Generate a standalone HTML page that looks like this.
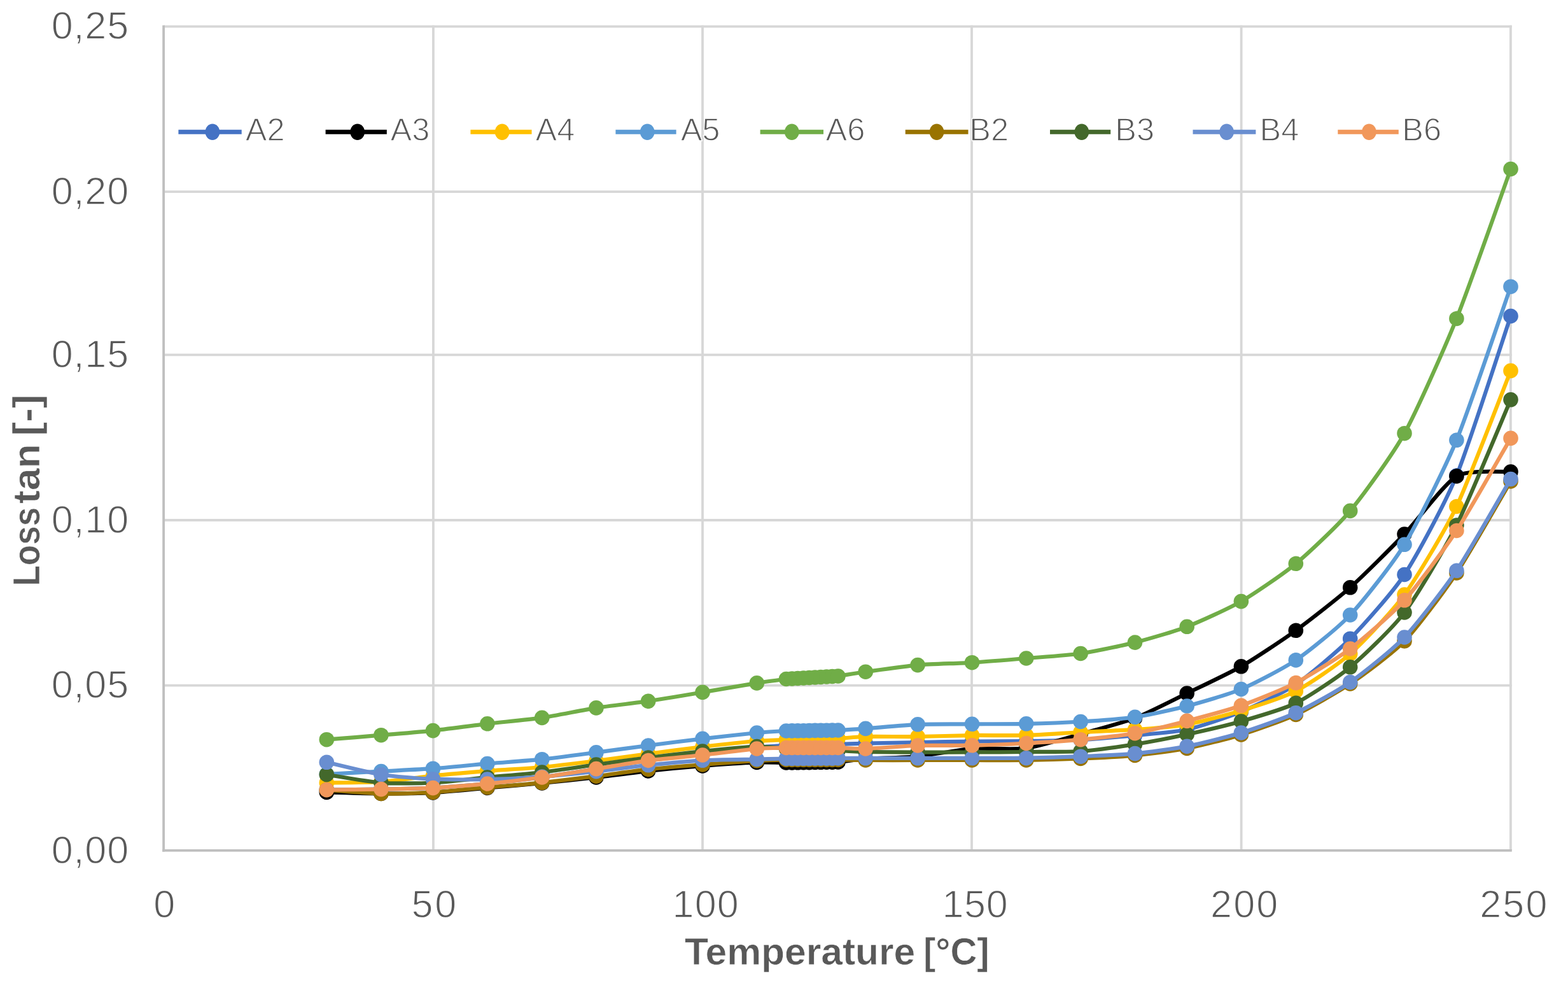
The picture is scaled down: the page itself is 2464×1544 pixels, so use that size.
<!DOCTYPE html>
<html lang="en">
<head>
<meta charset="utf-8">
<title>Loss tan vs Temperature</title>
<style>
html,body{margin:0;padding:0;background:#fff;}
body{width:2464px;height:1544px;overflow:hidden;}
svg{display:block;}
text{font-family:"Liberation Sans", sans-serif;fill:#595959;}
text{stroke:#fff;stroke-width:1.3px;paint-order:fill stroke;stroke-linejoin:round;}
.tick{font-size:61px;letter-spacing:0.9px;}
.leg{font-size:50.5px;}
.title{font-size:60px;font-weight:bold;stroke-width:0.6px;}
.s{fill:none;stroke-width:6.2;stroke-linejoin:round;stroke-linecap:round;}
</style>
</head>
<body>
<svg width="2464" height="1544" viewBox="0 0 2464 1544">
<rect width="2464" height="1544" fill="#fff"/>
<g id="grid" stroke="#D7D7D7" stroke-width="3.8" fill="none">
<line x1="257.1" y1="1076.7" x2="2375.8" y2="1076.7"/>
<line x1="257.1" y1="817" x2="2375.8" y2="817"/>
<line x1="257.1" y1="557.3" x2="2375.8" y2="557.3"/>
<line x1="257.1" y1="301.2" x2="2375.8" y2="301.2"/>
<line x1="257.1" y1="41.6" x2="2375.8" y2="41.6"/>
<line x1="680.9" y1="39.8" x2="680.9" y2="1335.9"/>
<line x1="1104" y1="39.8" x2="1104" y2="1335.9"/>
<line x1="1527" y1="39.8" x2="1527" y2="1335.9"/>
<line x1="1950.6" y1="39.8" x2="1950.6" y2="1335.9"/>
<line x1="2373.9" y1="39.8" x2="2373.9" y2="1335.9"/>
</g>
<g id="axes" stroke="#BFBFBF" stroke-width="3.8" fill="none">
<line x1="257.1" y1="39.8" x2="257.1" y2="1337.8"/>
<line x1="255.2" y1="1335.9" x2="2375.8" y2="1335.9"/>
</g>
<g id="yticks" class="tick" text-anchor="end">
<text x="203" y="1355.5">0,00</text>
<text x="203" y="1096.3">0,05</text>
<text x="203" y="836.6">0,10</text>
<text x="203" y="576.9">0,15</text>
<text x="203" y="320.8">0,20</text>
<text x="203" y="61.2">0,25</text>
</g>
<g id="xticks" class="tick">
<text x="241.3" y="1440.6" style="letter-spacing:0px">0</text>
<text x="646.6" y="1440.6" style="letter-spacing:2.8px">50</text>
<text x="1056.5" y="1440.6" style="letter-spacing:1.2px">100</text>
<text x="1480.4" y="1440.6" style="letter-spacing:0.8px">150</text>
<text x="1902.1" y="1440.6" style="letter-spacing:2.2px">200</text>
<text x="2325.2" y="1440.6" style="letter-spacing:2.2px">250</text>
</g>
<text class="title" y="1514.7"><tspan x="1076" textLength="362.3" lengthAdjust="spacingAndGlyphs">Temperature</tspan> <tspan x="1451" textLength="103.5" lengthAdjust="spacingAndGlyphs">[°C]</tspan></text>
<text class="title" transform="translate(61.8 917.1) rotate(-90)"><tspan x="-3.5" textLength="123.9" lengthAdjust="spacingAndGlyphs">Loss</tspan> <tspan x="126" textLength="93.8" lengthAdjust="spacingAndGlyphs">tan</tspan> <tspan x="232.3" textLength="65.5" lengthAdjust="spacingAndGlyphs">[-]</tspan></text>
<g id="s-A2" stroke="#4472C4" fill="#4472C4">
<path class="s" d="M513.3 1240.6C522.8 1240.5 580.3 1239.9 598.9 1239.6C617.5 1239.3 661.9 1238.6 680.4 1237.6C698.9 1236.6 746.8 1232.8 765.8 1231C784.8 1229.2 832.7 1223.6 851.7 1221C870.7 1218.4 918.4 1210.5 936.9 1207.6C955.4 1204.7 1000 1197 1018.6 1194.5C1037.2 1192 1085 1187.3 1104 1185C1123 1182.7 1174.7 1175.6 1189.3 1174C1203.9 1172.4 1229.4 1171.4 1235.5 1171C1240 1170.7 1242.5 1170.8 1244.6 1170.8C1246.6 1170.7 1251.6 1170.6 1253.6 1170.6C1255.6 1170.5 1260.7 1170.4 1262.7 1170.3C1264.7 1170.3 1269.7 1170.2 1271.7 1170.1C1273.7 1170.1 1278.8 1169.9 1280.8 1169.9C1282.8 1169.8 1287.8 1169.7 1289.8 1169.7C1291.8 1169.6 1296.9 1169.5 1298.9 1169.4C1300.9 1169.4 1305.9 1169.3 1307.9 1169.2C1310 1169.2 1312.5 1169.1 1317 1169C1322.8 1168.8 1346.3 1167.9 1360.2 1167.6C1374.1 1167.3 1423.5 1166.3 1442.1 1166C1460.7 1165.7 1508.5 1164.7 1527.5 1164.5C1546.5 1164.3 1593.7 1164.3 1612.7 1164C1631.7 1163.7 1679.1 1163 1698.1 1162C1717.1 1161 1764.9 1156.8 1783.5 1155C1802.1 1153.2 1846.7 1150.1 1865.2 1146C1883.7 1141.9 1931.4 1125.9 1950.4 1118C1969.4 1110.1 2017.3 1087.8 2036.3 1075C2055.3 1062.2 2102.7 1022.4 2121.7 1003.2C2140.7 984 2188.4 931 2207 902.5C2225.6 874 2270.3 792.1 2288.9 747C2307.5 701.9 2364.5 524.3 2374 496.5"/>
<g stroke="none"><circle cx="513.3" cy="1240.6" r="11.8"/><circle cx="598.9" cy="1239.6" r="11.8"/><circle cx="680.4" cy="1237.6" r="11.8"/><circle cx="765.8" cy="1231" r="11.8"/><circle cx="851.7" cy="1221" r="11.8"/><circle cx="936.9" cy="1207.6" r="11.8"/><circle cx="1018.6" cy="1194.5" r="11.8"/><circle cx="1104" cy="1185" r="11.8"/><circle cx="1189.3" cy="1174" r="11.8"/><circle cx="1235.5" cy="1171" r="11.8"/><circle cx="1244.6" cy="1170.8" r="11.8"/><circle cx="1253.6" cy="1170.6" r="11.8"/><circle cx="1262.7" cy="1170.3" r="11.8"/><circle cx="1271.7" cy="1170.1" r="11.8"/><circle cx="1280.8" cy="1169.9" r="11.8"/><circle cx="1289.8" cy="1169.7" r="11.8"/><circle cx="1298.9" cy="1169.4" r="11.8"/><circle cx="1307.9" cy="1169.2" r="11.8"/><circle cx="1317" cy="1169" r="11.8"/><circle cx="1360.2" cy="1167.6" r="11.8"/><circle cx="1442.1" cy="1166" r="11.8"/><circle cx="1527.5" cy="1164.5" r="11.8"/><circle cx="1612.7" cy="1164" r="11.8"/><circle cx="1698.1" cy="1162" r="11.8"/><circle cx="1783.5" cy="1155" r="11.8"/><circle cx="1865.2" cy="1146" r="11.8"/><circle cx="1950.4" cy="1118" r="11.8"/><circle cx="2036.3" cy="1075" r="11.8"/><circle cx="2121.7" cy="1003.2" r="11.8"/><circle cx="2207" cy="902.5" r="11.8"/><circle cx="2288.9" cy="747" r="11.8"/><circle cx="2374" cy="496.5" r="11.8"/></g>
</g>
<g id="s-A3" stroke="#000000" fill="#000000">
<path class="s" d="M513.3 1244.5C522.8 1244.7 580.3 1246.4 598.9 1246.5C617.5 1246.6 661.9 1246 680.4 1245C698.9 1244 746.8 1239.2 765.8 1237.5C784.8 1235.8 832.7 1231.8 851.7 1230C870.7 1228.2 918.4 1223.1 936.9 1221C955.4 1218.9 1000 1213 1018.6 1211C1037.2 1209 1085 1204.5 1104 1203C1123 1201.5 1174.7 1198.1 1189.3 1197.5C1203.9 1196.9 1229.4 1198 1235.5 1198C1240 1198 1242.5 1197.9 1244.6 1197.9C1246.6 1197.9 1251.6 1197.8 1253.6 1197.8C1255.6 1197.8 1260.7 1197.7 1262.7 1197.7C1264.7 1197.6 1269.7 1197.6 1271.7 1197.6C1273.7 1197.5 1278.8 1197.5 1280.8 1197.4C1282.8 1197.4 1287.8 1197.4 1289.8 1197.3C1291.8 1197.3 1296.9 1197.2 1298.9 1197.2C1300.9 1197.2 1305.9 1197.1 1307.9 1197.1C1310 1197.1 1312.5 1197.4 1317 1197C1322.8 1196.4 1346.3 1193 1360.2 1192C1374.1 1191 1423.5 1189.8 1442.1 1188C1460.7 1186.2 1508.5 1177.4 1527.5 1176C1546.5 1174.6 1593.7 1177.9 1612.7 1175.3C1631.7 1172.7 1679.1 1158.3 1698.1 1153C1717.1 1147.7 1764.9 1135.1 1783.5 1128C1802.1 1120.9 1846.7 1098 1865.2 1089C1883.7 1080 1931.4 1057.8 1950.4 1046.8C1969.4 1035.8 2017.3 1004.1 2036.3 990.3C2055.3 976.5 2102.7 939.6 2121.7 922.8C2140.7 906 2188.4 858.4 2207 839C2225.6 819.6 2270.3 758.8 2288.9 747.9C2307.5 737 2364.5 741.8 2374 741"/>
<g stroke="none"><circle cx="513.3" cy="1244.5" r="11.8"/><circle cx="598.9" cy="1246.5" r="11.8"/><circle cx="680.4" cy="1245" r="11.8"/><circle cx="765.8" cy="1237.5" r="11.8"/><circle cx="851.7" cy="1230" r="11.8"/><circle cx="936.9" cy="1221" r="11.8"/><circle cx="1018.6" cy="1211" r="11.8"/><circle cx="1104" cy="1203" r="11.8"/><circle cx="1189.3" cy="1197.5" r="11.8"/><circle cx="1235.5" cy="1198" r="11.8"/><circle cx="1244.6" cy="1197.9" r="11.8"/><circle cx="1253.6" cy="1197.8" r="11.8"/><circle cx="1262.7" cy="1197.7" r="11.8"/><circle cx="1271.7" cy="1197.6" r="11.8"/><circle cx="1280.8" cy="1197.4" r="11.8"/><circle cx="1289.8" cy="1197.3" r="11.8"/><circle cx="1298.9" cy="1197.2" r="11.8"/><circle cx="1307.9" cy="1197.1" r="11.8"/><circle cx="1317" cy="1197" r="11.8"/><circle cx="1360.2" cy="1192" r="11.8"/><circle cx="1442.1" cy="1188" r="11.8"/><circle cx="1527.5" cy="1176" r="11.8"/><circle cx="1612.7" cy="1175.3" r="11.8"/><circle cx="1698.1" cy="1153" r="11.8"/><circle cx="1783.5" cy="1128" r="11.8"/><circle cx="1865.2" cy="1089" r="11.8"/><circle cx="1950.4" cy="1046.8" r="11.8"/><circle cx="2036.3" cy="990.3" r="11.8"/><circle cx="2121.7" cy="922.8" r="11.8"/><circle cx="2207" cy="839" r="11.8"/><circle cx="2288.9" cy="747.9" r="11.8"/><circle cx="2374" cy="741" r="11.8"/></g>
</g>
<g id="s-A4" stroke="#FFC000" fill="#FFC000">
<path class="s" d="M513.3 1229.6C522.8 1229.4 580.3 1229.2 598.9 1228C617.5 1226.8 661.9 1220.4 680.4 1218.5C698.9 1216.6 746.8 1212.5 765.8 1211C784.8 1209.5 832.7 1206.8 851.7 1205C870.7 1203.2 918.4 1197.3 936.9 1195C955.4 1192.7 1000 1186.4 1018.6 1184C1037.2 1181.6 1085 1175.2 1104 1173C1123 1170.8 1174.7 1165.2 1189.3 1164C1203.9 1162.8 1229.4 1162.2 1235.5 1162C1240 1161.8 1242.5 1161.8 1244.6 1161.8C1246.6 1161.7 1251.6 1161.6 1253.6 1161.6C1255.6 1161.5 1260.7 1161.4 1262.7 1161.3C1264.7 1161.3 1269.7 1161.2 1271.7 1161.1C1273.7 1161.1 1278.8 1160.9 1280.8 1160.9C1282.8 1160.8 1287.8 1160.7 1289.8 1160.7C1291.8 1160.6 1296.9 1160.5 1298.9 1160.4C1300.9 1160.4 1305.9 1160.3 1307.9 1160.2C1310 1160.2 1312.5 1160.3 1317 1160C1322.8 1159.6 1346.3 1157.3 1360.2 1157C1374.1 1156.7 1423.5 1157.2 1442.1 1157C1460.7 1156.8 1508.5 1155.2 1527.5 1155C1546.5 1154.8 1593.7 1155.6 1612.7 1155C1631.7 1154.4 1679.1 1151 1698.1 1150C1717.1 1149 1764.9 1147.3 1783.5 1146C1802.1 1144.7 1846.7 1141.3 1865.2 1138C1883.7 1134.7 1931.4 1122.1 1950.4 1116.3C1969.4 1110.5 2017.3 1095.4 2036.3 1085.5C2055.3 1075.6 2102.7 1043.8 2121.7 1027C2140.7 1010.2 2188.4 959.7 2207 934C2225.6 908.3 2270.3 834.6 2288.9 795.5C2307.5 756.4 2364.5 606.1 2374 582.4"/>
<g stroke="none"><circle cx="513.3" cy="1229.6" r="11.8"/><circle cx="598.9" cy="1228" r="11.8"/><circle cx="680.4" cy="1218.5" r="11.8"/><circle cx="765.8" cy="1211" r="11.8"/><circle cx="851.7" cy="1205" r="11.8"/><circle cx="936.9" cy="1195" r="11.8"/><circle cx="1018.6" cy="1184" r="11.8"/><circle cx="1104" cy="1173" r="11.8"/><circle cx="1189.3" cy="1164" r="11.8"/><circle cx="1235.5" cy="1162" r="11.8"/><circle cx="1244.6" cy="1161.8" r="11.8"/><circle cx="1253.6" cy="1161.6" r="11.8"/><circle cx="1262.7" cy="1161.3" r="11.8"/><circle cx="1271.7" cy="1161.1" r="11.8"/><circle cx="1280.8" cy="1160.9" r="11.8"/><circle cx="1289.8" cy="1160.7" r="11.8"/><circle cx="1298.9" cy="1160.4" r="11.8"/><circle cx="1307.9" cy="1160.2" r="11.8"/><circle cx="1317" cy="1160" r="11.8"/><circle cx="1360.2" cy="1157" r="11.8"/><circle cx="1442.1" cy="1157" r="11.8"/><circle cx="1527.5" cy="1155" r="11.8"/><circle cx="1612.7" cy="1155" r="11.8"/><circle cx="1698.1" cy="1150" r="11.8"/><circle cx="1783.5" cy="1146" r="11.8"/><circle cx="1865.2" cy="1138" r="11.8"/><circle cx="1950.4" cy="1116.3" r="11.8"/><circle cx="2036.3" cy="1085.5" r="11.8"/><circle cx="2121.7" cy="1027" r="11.8"/><circle cx="2207" cy="934" r="11.8"/><circle cx="2288.9" cy="795.5" r="11.8"/><circle cx="2374" cy="582.4" r="11.8"/></g>
</g>
<g id="s-A5" stroke="#5B9BD5" fill="#5B9BD5">
<path class="s" d="M513.3 1216C522.8 1215.5 580.3 1212.5 598.9 1211.5C617.5 1210.5 661.9 1208.5 680.4 1207.2C698.9 1205.9 746.8 1201.1 765.8 1199.5C784.8 1197.9 832.7 1194.7 851.7 1192.7C870.7 1190.7 918.4 1184.3 936.9 1181.9C955.4 1179.5 1000 1173.4 1018.6 1171C1037.2 1168.6 1085 1162.5 1104 1160.3C1123 1158.1 1174.7 1152.4 1189.3 1151C1203.9 1149.6 1229.4 1148.3 1235.5 1148C1240 1147.7 1242.5 1147.9 1244.6 1147.9C1246.6 1147.9 1251.6 1147.8 1253.6 1147.8C1255.6 1147.8 1260.7 1147.7 1262.7 1147.7C1264.7 1147.6 1269.7 1147.6 1271.7 1147.6C1273.7 1147.5 1278.8 1147.5 1280.8 1147.4C1282.8 1147.4 1287.8 1147.4 1289.8 1147.3C1291.8 1147.3 1296.9 1147.2 1298.9 1147.2C1300.9 1147.2 1305.9 1147.1 1307.9 1147.1C1310 1147.1 1312.5 1147.2 1317 1147C1322.8 1146.7 1346.3 1145.4 1360.2 1144.4C1374.1 1143.4 1423.5 1138.6 1442.1 1137.8C1460.7 1137 1508.5 1137.4 1527.5 1137.3C1546.5 1137.2 1593.7 1137.2 1612.7 1136.8C1631.7 1136.4 1679.1 1134.7 1698.1 1133.5C1717.1 1132.3 1764.9 1129 1783.5 1126.3C1802.1 1123.6 1846.7 1113.9 1865.2 1109C1883.7 1104.1 1931.4 1090.5 1950.4 1082.5C1969.4 1074.5 2017.3 1049.8 2036.3 1036.9C2055.3 1024 2102.7 986.2 2121.7 966C2140.7 945.8 2188.4 885.8 2207 855.3C2225.6 824.8 2270.3 736.3 2288.9 691.3C2307.5 646.3 2364.5 477 2374 450.2"/>
<g stroke="none"><circle cx="513.3" cy="1216" r="11.8"/><circle cx="598.9" cy="1211.5" r="11.8"/><circle cx="680.4" cy="1207.2" r="11.8"/><circle cx="765.8" cy="1199.5" r="11.8"/><circle cx="851.7" cy="1192.7" r="11.8"/><circle cx="936.9" cy="1181.9" r="11.8"/><circle cx="1018.6" cy="1171" r="11.8"/><circle cx="1104" cy="1160.3" r="11.8"/><circle cx="1189.3" cy="1151" r="11.8"/><circle cx="1235.5" cy="1148" r="11.8"/><circle cx="1244.6" cy="1147.9" r="11.8"/><circle cx="1253.6" cy="1147.8" r="11.8"/><circle cx="1262.7" cy="1147.7" r="11.8"/><circle cx="1271.7" cy="1147.6" r="11.8"/><circle cx="1280.8" cy="1147.4" r="11.8"/><circle cx="1289.8" cy="1147.3" r="11.8"/><circle cx="1298.9" cy="1147.2" r="11.8"/><circle cx="1307.9" cy="1147.1" r="11.8"/><circle cx="1317" cy="1147" r="11.8"/><circle cx="1360.2" cy="1144.4" r="11.8"/><circle cx="1442.1" cy="1137.8" r="11.8"/><circle cx="1527.5" cy="1137.3" r="11.8"/><circle cx="1612.7" cy="1136.8" r="11.8"/><circle cx="1698.1" cy="1133.5" r="11.8"/><circle cx="1783.5" cy="1126.3" r="11.8"/><circle cx="1865.2" cy="1109" r="11.8"/><circle cx="1950.4" cy="1082.5" r="11.8"/><circle cx="2036.3" cy="1036.9" r="11.8"/><circle cx="2121.7" cy="966" r="11.8"/><circle cx="2207" cy="855.3" r="11.8"/><circle cx="2288.9" cy="691.3" r="11.8"/><circle cx="2374" cy="450.2" r="11.8"/></g>
</g>
<g id="s-A6" stroke="#70AD47" fill="#70AD47">
<path class="s" d="M513.3 1161.7C522.8 1160.9 580.3 1156.3 598.9 1154.7C617.5 1153.1 661.9 1149.6 680.4 1147.6C698.9 1145.6 746.8 1139 765.8 1136.8C784.8 1134.6 832.7 1130.2 851.7 1127.4C870.7 1124.6 918.4 1114.8 936.9 1111.9C955.4 1109 1000 1104.1 1018.6 1101.4C1037.2 1098.7 1085 1090.6 1104 1087.4C1123 1084.2 1174.7 1075.2 1189.3 1072.9C1203.9 1070.6 1229.4 1067.3 1235.5 1066.5C1240 1065.9 1242.5 1066.1 1244.6 1066C1246.6 1065.9 1251.6 1065.6 1253.6 1065.5C1255.6 1065.4 1260.7 1065.1 1262.7 1065C1264.7 1064.9 1269.7 1064.6 1271.7 1064.5C1273.7 1064.4 1278.8 1064.1 1280.8 1064C1282.8 1063.9 1287.8 1063.6 1289.8 1063.5C1291.8 1063.4 1296.9 1063.1 1298.9 1063C1300.9 1062.9 1305.9 1062.6 1307.9 1062.5C1310 1062.4 1312.5 1062.6 1317 1062C1322.8 1061.2 1346.3 1057.1 1360.2 1055.2C1374.1 1053.3 1423.5 1046.2 1442.1 1044.6C1460.7 1043 1508.5 1041.9 1527.5 1040.7C1546.5 1039.5 1593.7 1035.6 1612.7 1034C1631.7 1032.4 1679.1 1029.3 1698.1 1026.5C1717.1 1023.7 1764.9 1013.8 1783.5 1009.1C1802.1 1004.4 1846.7 991.5 1865.2 984.3C1883.7 977.1 1931.4 955.6 1950.4 944.6C1969.4 933.6 2017.3 901.1 2036.3 885.3C2055.3 869.5 2102.7 825.1 2121.7 802.4C2140.7 779.7 2188.4 714.3 2207 680.7C2225.6 647.1 2270.3 546.5 2288.9 500.4C2307.5 454.3 2364.5 291.6 2374 265.5"/>
<g stroke="none"><circle cx="513.3" cy="1161.7" r="11.8"/><circle cx="598.9" cy="1154.7" r="11.8"/><circle cx="680.4" cy="1147.6" r="11.8"/><circle cx="765.8" cy="1136.8" r="11.8"/><circle cx="851.7" cy="1127.4" r="11.8"/><circle cx="936.9" cy="1111.9" r="11.8"/><circle cx="1018.6" cy="1101.4" r="11.8"/><circle cx="1104" cy="1087.4" r="11.8"/><circle cx="1189.3" cy="1072.9" r="11.8"/><circle cx="1235.5" cy="1066.5" r="11.8"/><circle cx="1244.6" cy="1066" r="11.8"/><circle cx="1253.6" cy="1065.5" r="11.8"/><circle cx="1262.7" cy="1065" r="11.8"/><circle cx="1271.7" cy="1064.5" r="11.8"/><circle cx="1280.8" cy="1064" r="11.8"/><circle cx="1289.8" cy="1063.5" r="11.8"/><circle cx="1298.9" cy="1063" r="11.8"/><circle cx="1307.9" cy="1062.5" r="11.8"/><circle cx="1317" cy="1062" r="11.8"/><circle cx="1360.2" cy="1055.2" r="11.8"/><circle cx="1442.1" cy="1044.6" r="11.8"/><circle cx="1527.5" cy="1040.7" r="11.8"/><circle cx="1612.7" cy="1034" r="11.8"/><circle cx="1698.1" cy="1026.5" r="11.8"/><circle cx="1783.5" cy="1009.1" r="11.8"/><circle cx="1865.2" cy="984.3" r="11.8"/><circle cx="1950.4" cy="944.6" r="11.8"/><circle cx="2036.3" cy="885.3" r="11.8"/><circle cx="2121.7" cy="802.4" r="11.8"/><circle cx="2207" cy="680.7" r="11.8"/><circle cx="2288.9" cy="500.4" r="11.8"/><circle cx="2374" cy="265.5" r="11.8"/></g>
</g>
<g id="s-B2" stroke="#997300" fill="#997300">
<path class="s" d="M513.3 1240.5C522.8 1241.2 580.3 1246.1 598.9 1246.5C617.5 1246.9 661.9 1245.6 680.4 1244.5C698.9 1243.4 746.8 1238.5 765.8 1236.8C784.8 1235.1 832.7 1231.3 851.7 1229.3C870.7 1227.3 918.4 1221.5 936.9 1219.2C955.4 1216.9 1000 1210.4 1018.6 1208.4C1037.2 1206.4 1085 1202.5 1104 1201C1123 1199.5 1174.7 1195.8 1189.3 1195C1203.9 1194.2 1229.4 1193.7 1235.5 1193.5C1240 1193.4 1242.5 1193.5 1244.6 1193.5C1246.6 1193.5 1251.6 1193.5 1253.6 1193.5C1255.6 1193.5 1260.7 1193.5 1262.7 1193.5C1264.7 1193.5 1269.7 1193.5 1271.7 1193.5C1273.7 1193.5 1278.8 1193.5 1280.8 1193.5C1282.8 1193.5 1287.8 1193.5 1289.8 1193.5C1291.8 1193.5 1296.9 1193.5 1298.9 1193.5C1300.9 1193.5 1305.9 1193.5 1307.9 1193.5C1310 1193.5 1312.5 1193.5 1317 1193.5C1322.8 1193.6 1346.3 1193.9 1360.2 1194C1374.1 1194.1 1423.5 1194 1442.1 1194C1460.7 1194 1508.5 1194 1527.5 1194C1546.5 1194 1593.7 1194.3 1612.7 1194C1631.7 1193.7 1679.1 1192.3 1698.1 1191.5C1717.1 1190.7 1764.9 1188.3 1783.5 1186.5C1802.1 1184.7 1846.7 1179.1 1865.2 1175.5C1883.7 1171.9 1931.4 1159.9 1950.4 1154C1969.4 1148.1 2017.3 1131.4 2036.3 1122.5C2055.3 1113.6 2102.7 1086.8 2121.7 1074C2140.7 1061.2 2188.4 1026.3 2207 1007C2225.6 987.7 2270.3 927.9 2288.9 900C2307.5 872.1 2364.5 772 2374 756"/>
<g stroke="none"><circle cx="513.3" cy="1240.5" r="11.8"/><circle cx="598.9" cy="1246.5" r="11.8"/><circle cx="680.4" cy="1244.5" r="11.8"/><circle cx="765.8" cy="1236.8" r="11.8"/><circle cx="851.7" cy="1229.3" r="11.8"/><circle cx="936.9" cy="1219.2" r="11.8"/><circle cx="1018.6" cy="1208.4" r="11.8"/><circle cx="1104" cy="1201" r="11.8"/><circle cx="1189.3" cy="1195" r="11.8"/><circle cx="1235.5" cy="1193.5" r="11.8"/><circle cx="1244.6" cy="1193.5" r="11.8"/><circle cx="1253.6" cy="1193.5" r="11.8"/><circle cx="1262.7" cy="1193.5" r="11.8"/><circle cx="1271.7" cy="1193.5" r="11.8"/><circle cx="1280.8" cy="1193.5" r="11.8"/><circle cx="1289.8" cy="1193.5" r="11.8"/><circle cx="1298.9" cy="1193.5" r="11.8"/><circle cx="1307.9" cy="1193.5" r="11.8"/><circle cx="1317" cy="1193.5" r="11.8"/><circle cx="1360.2" cy="1194" r="11.8"/><circle cx="1442.1" cy="1194" r="11.8"/><circle cx="1527.5" cy="1194" r="11.8"/><circle cx="1612.7" cy="1194" r="11.8"/><circle cx="1698.1" cy="1191.5" r="11.8"/><circle cx="1783.5" cy="1186.5" r="11.8"/><circle cx="1865.2" cy="1175.5" r="11.8"/><circle cx="1950.4" cy="1154" r="11.8"/><circle cx="2036.3" cy="1122.5" r="11.8"/><circle cx="2121.7" cy="1074" r="11.8"/><circle cx="2207" cy="1007" r="11.8"/><circle cx="2288.9" cy="900" r="11.8"/><circle cx="2374" cy="756" r="11.8"/></g>
</g>
<g id="s-B3" stroke="#43682B" fill="#43682B">
<path class="s" d="M513.3 1216.7C522.8 1218.1 580.3 1228.2 598.9 1229.6C617.5 1231 661.9 1230.5 680.4 1229.5C698.9 1228.5 746.8 1222.8 765.8 1221C784.8 1219.2 832.7 1215.2 851.7 1213C870.7 1210.8 918.4 1203.6 936.9 1201C955.4 1198.4 1000 1192.3 1018.6 1190C1037.2 1187.7 1085 1181.9 1104 1180C1123 1178.1 1174.7 1173 1189.3 1172.6C1203.9 1172.2 1229.4 1175.6 1235.5 1176C1240 1176.3 1242.5 1176.3 1244.6 1176.3C1246.6 1176.4 1251.6 1176.6 1253.6 1176.7C1255.6 1176.7 1260.7 1176.9 1262.7 1177C1264.7 1177.1 1269.7 1177.3 1271.7 1177.3C1273.7 1177.4 1278.8 1177.6 1280.8 1177.7C1282.8 1177.7 1287.8 1177.9 1289.8 1178C1291.8 1178.1 1296.9 1178.3 1298.9 1178.3C1300.9 1178.4 1305.9 1178.6 1307.9 1178.7C1310 1178.7 1312.5 1178.8 1317 1179C1322.8 1179.3 1346.3 1180.7 1360.2 1181C1374.1 1181.3 1423.5 1181.6 1442.1 1181.7C1460.7 1181.8 1508.5 1181.6 1527.5 1181.5C1546.5 1181.4 1593.7 1181.2 1612.7 1181C1631.7 1180.8 1679.1 1181.3 1698.1 1180C1717.1 1178.7 1764.9 1171.9 1783.5 1169C1802.1 1166.1 1846.7 1157.5 1865.2 1153.5C1883.7 1149.5 1931.4 1138.5 1950.4 1133C1969.4 1127.5 2017.3 1113.9 2036.3 1104.4C2055.3 1094.9 2102.7 1063.6 2121.7 1047.8C2140.7 1032 2188.4 986.8 2207 962C2225.6 937.2 2270.3 862.1 2288.9 825C2307.5 787.9 2364.5 649.7 2374 627.8"/>
<g stroke="none"><circle cx="513.3" cy="1216.7" r="11.8"/><circle cx="598.9" cy="1229.6" r="11.8"/><circle cx="680.4" cy="1229.5" r="11.8"/><circle cx="765.8" cy="1221" r="11.8"/><circle cx="851.7" cy="1213" r="11.8"/><circle cx="936.9" cy="1201" r="11.8"/><circle cx="1018.6" cy="1190" r="11.8"/><circle cx="1104" cy="1180" r="11.8"/><circle cx="1189.3" cy="1172.6" r="11.8"/><circle cx="1235.5" cy="1176" r="11.8"/><circle cx="1244.6" cy="1176.3" r="11.8"/><circle cx="1253.6" cy="1176.7" r="11.8"/><circle cx="1262.7" cy="1177" r="11.8"/><circle cx="1271.7" cy="1177.3" r="11.8"/><circle cx="1280.8" cy="1177.7" r="11.8"/><circle cx="1289.8" cy="1178" r="11.8"/><circle cx="1298.9" cy="1178.3" r="11.8"/><circle cx="1307.9" cy="1178.7" r="11.8"/><circle cx="1317" cy="1179" r="11.8"/><circle cx="1360.2" cy="1181" r="11.8"/><circle cx="1442.1" cy="1181.7" r="11.8"/><circle cx="1527.5" cy="1181.5" r="11.8"/><circle cx="1612.7" cy="1181" r="11.8"/><circle cx="1698.1" cy="1180" r="11.8"/><circle cx="1783.5" cy="1169" r="11.8"/><circle cx="1865.2" cy="1153.5" r="11.8"/><circle cx="1950.4" cy="1133" r="11.8"/><circle cx="2036.3" cy="1104.4" r="11.8"/><circle cx="2121.7" cy="1047.8" r="11.8"/><circle cx="2207" cy="962" r="11.8"/><circle cx="2288.9" cy="825" r="11.8"/><circle cx="2374" cy="627.8" r="11.8"/></g>
</g>
<g id="s-B4" stroke="#698ED0" fill="#698ED0">
<path class="s" d="M513.3 1197.3C522.8 1199.5 580.3 1213.8 598.9 1216.7C617.5 1219.6 661.9 1222.9 680.4 1223.7C698.9 1224.5 746.8 1224.4 765.8 1224C784.8 1223.6 832.7 1221.4 851.7 1220C870.7 1218.6 918.4 1213.7 936.9 1211.7C955.4 1209.7 1000 1203.7 1018.6 1201.8C1037.2 1199.9 1085 1195.3 1104 1194.3C1123 1193.3 1174.7 1192.9 1189.3 1192.6C1203.9 1192.3 1229.4 1191.6 1235.5 1191.5C1240 1191.4 1242.5 1191.5 1244.6 1191.4C1246.6 1191.4 1251.6 1191.4 1253.6 1191.4C1255.6 1191.4 1260.7 1191.3 1262.7 1191.3C1264.7 1191.3 1269.7 1191.3 1271.7 1191.3C1273.7 1191.3 1278.8 1191.2 1280.8 1191.2C1282.8 1191.2 1287.8 1191.2 1289.8 1191.2C1291.8 1191.2 1296.9 1191.1 1298.9 1191.1C1300.9 1191.1 1305.9 1191.1 1307.9 1191.1C1310 1191 1312.5 1191 1317 1191C1322.8 1191 1346.3 1190.8 1360.2 1190.8C1374.1 1190.8 1423.5 1190.8 1442.1 1190.8C1460.7 1190.8 1508.5 1190.8 1527.5 1190.8C1546.5 1190.8 1593.7 1191 1612.7 1190.7C1631.7 1190.4 1679.1 1189 1698.1 1188.2C1717.1 1187.4 1764.9 1185.4 1783.5 1183.6C1802.1 1181.8 1846.7 1175.8 1865.2 1172.2C1883.7 1168.6 1931.4 1156.8 1950.4 1151C1969.4 1145.2 2017.3 1128.5 2036.3 1119.7C2055.3 1110.9 2102.7 1084.8 2121.7 1071.6C2140.7 1058.4 2188.4 1020.5 2207 1001C2225.6 981.5 2270.3 923.9 2288.9 896.3C2307.5 868.7 2364.5 768.5 2374 752.5"/>
<g stroke="none"><circle cx="513.3" cy="1197.3" r="11.8"/><circle cx="598.9" cy="1216.7" r="11.8"/><circle cx="680.4" cy="1223.7" r="11.8"/><circle cx="765.8" cy="1224" r="11.8"/><circle cx="851.7" cy="1220" r="11.8"/><circle cx="936.9" cy="1211.7" r="11.8"/><circle cx="1018.6" cy="1201.8" r="11.8"/><circle cx="1104" cy="1194.3" r="11.8"/><circle cx="1189.3" cy="1192.6" r="11.8"/><circle cx="1235.5" cy="1191.5" r="11.8"/><circle cx="1244.6" cy="1191.4" r="11.8"/><circle cx="1253.6" cy="1191.4" r="11.8"/><circle cx="1262.7" cy="1191.3" r="11.8"/><circle cx="1271.7" cy="1191.3" r="11.8"/><circle cx="1280.8" cy="1191.2" r="11.8"/><circle cx="1289.8" cy="1191.2" r="11.8"/><circle cx="1298.9" cy="1191.1" r="11.8"/><circle cx="1307.9" cy="1191.1" r="11.8"/><circle cx="1317" cy="1191" r="11.8"/><circle cx="1360.2" cy="1190.8" r="11.8"/><circle cx="1442.1" cy="1190.8" r="11.8"/><circle cx="1527.5" cy="1190.8" r="11.8"/><circle cx="1612.7" cy="1190.7" r="11.8"/><circle cx="1698.1" cy="1188.2" r="11.8"/><circle cx="1783.5" cy="1183.6" r="11.8"/><circle cx="1865.2" cy="1172.2" r="11.8"/><circle cx="1950.4" cy="1151" r="11.8"/><circle cx="2036.3" cy="1119.7" r="11.8"/><circle cx="2121.7" cy="1071.6" r="11.8"/><circle cx="2207" cy="1001" r="11.8"/><circle cx="2288.9" cy="896.3" r="11.8"/><circle cx="2374" cy="752.5" r="11.8"/></g>
</g>
<g id="s-B6" stroke="#F1975A" fill="#F1975A">
<path class="s" d="M513.3 1240.6C522.8 1240.5 580.3 1239.9 598.9 1239.6C617.5 1239.3 661.9 1238.6 680.4 1237.6C698.9 1236.6 746.8 1232.8 765.8 1231C784.8 1229.2 832.7 1223.6 851.7 1221C870.7 1218.4 918.4 1210.5 936.9 1207.6C955.4 1204.7 1000 1196.9 1018.6 1194.5C1037.2 1192.1 1085 1188.1 1104 1186C1123 1183.9 1174.7 1177.3 1189.3 1176C1203.9 1174.7 1229.4 1174.7 1235.5 1174.5C1240 1174.4 1242.5 1174.5 1244.6 1174.5C1246.6 1174.5 1251.6 1174.5 1253.6 1174.5C1255.6 1174.5 1260.7 1174.5 1262.7 1174.5C1264.7 1174.5 1269.7 1174.5 1271.7 1174.5C1273.7 1174.5 1278.8 1174.5 1280.8 1174.5C1282.8 1174.5 1287.8 1174.5 1289.8 1174.5C1291.8 1174.5 1296.9 1174.5 1298.9 1174.5C1300.9 1174.5 1305.9 1174.5 1307.9 1174.5C1310 1174.5 1312.5 1174.4 1317 1174.5C1322.8 1174.7 1346.3 1176.4 1360.2 1176C1374.1 1175.6 1423.5 1171.6 1442.1 1171C1460.7 1170.4 1508.5 1171.2 1527.5 1170.8C1546.5 1170.4 1593.7 1168.5 1612.7 1167.5C1631.7 1166.5 1679.1 1163.5 1698.1 1161.7C1717.1 1159.9 1764.9 1155 1783.5 1151.7C1802.1 1148.4 1846.7 1137.2 1865.2 1132.4C1883.7 1127.6 1931.4 1114.9 1950.4 1108.3C1969.4 1101.7 2017.3 1082.5 2036.3 1072.6C2055.3 1062.7 2102.7 1033.4 2121.7 1019C2140.7 1004.6 2188.4 963.4 2207 942.8C2225.6 922.2 2270.3 861.8 2288.9 833.5C2307.5 805.2 2364.5 704.5 2374 688.4"/>
<g stroke="none"><circle cx="513.3" cy="1240.6" r="11.8"/><circle cx="598.9" cy="1239.6" r="11.8"/><circle cx="680.4" cy="1237.6" r="11.8"/><circle cx="765.8" cy="1231" r="11.8"/><circle cx="851.7" cy="1221" r="11.8"/><circle cx="936.9" cy="1207.6" r="11.8"/><circle cx="1018.6" cy="1194.5" r="11.8"/><circle cx="1104" cy="1186" r="11.8"/><circle cx="1189.3" cy="1176" r="11.8"/><circle cx="1235.5" cy="1174.5" r="11.8"/><circle cx="1244.6" cy="1174.5" r="11.8"/><circle cx="1253.6" cy="1174.5" r="11.8"/><circle cx="1262.7" cy="1174.5" r="11.8"/><circle cx="1271.7" cy="1174.5" r="11.8"/><circle cx="1280.8" cy="1174.5" r="11.8"/><circle cx="1289.8" cy="1174.5" r="11.8"/><circle cx="1298.9" cy="1174.5" r="11.8"/><circle cx="1307.9" cy="1174.5" r="11.8"/><circle cx="1317" cy="1174.5" r="11.8"/><circle cx="1360.2" cy="1176" r="11.8"/><circle cx="1442.1" cy="1171" r="11.8"/><circle cx="1527.5" cy="1170.8" r="11.8"/><circle cx="1612.7" cy="1167.5" r="11.8"/><circle cx="1698.1" cy="1161.7" r="11.8"/><circle cx="1783.5" cy="1151.7" r="11.8"/><circle cx="1865.2" cy="1132.4" r="11.8"/><circle cx="1950.4" cy="1108.3" r="11.8"/><circle cx="2036.3" cy="1072.6" r="11.8"/><circle cx="2121.7" cy="1019" r="11.8"/><circle cx="2207" cy="942.8" r="11.8"/><circle cx="2288.9" cy="833.5" r="11.8"/><circle cx="2374" cy="688.4" r="11.8"/></g>
</g>
<g id="legend">
<line x1="280.4" y1="207.2" x2="379.7" y2="207.2" stroke="#4472C4" stroke-width="7"/>
<ellipse cx="333.9" cy="207.2" rx="11.4" ry="12.8" fill="#4472C4"/>
<text class="leg" x="385.8" y="220.9">A2</text>
<line x1="511.6" y1="207.2" x2="607.8" y2="207.2" stroke="#000000" stroke-width="7"/>
<ellipse cx="561.7" cy="207.2" rx="11.4" ry="12.8" fill="#000000"/>
<text class="leg" x="613.6" y="220.9">A3</text>
<line x1="739.4" y1="207.2" x2="835.5" y2="207.2" stroke="#FFC000" stroke-width="7"/>
<ellipse cx="789.1" cy="207.2" rx="11.4" ry="12.8" fill="#FFC000"/>
<text class="leg" x="841.6" y="220.9">A4</text>
<line x1="967.4" y1="207.2" x2="1062.6" y2="207.2" stroke="#5B9BD5" stroke-width="7"/>
<ellipse cx="1017.2" cy="207.2" rx="11.4" ry="12.8" fill="#5B9BD5"/>
<text class="leg" x="1069.7" y="220.9">A5</text>
<line x1="1194.6" y1="207.2" x2="1294" y2="207.2" stroke="#70AD47" stroke-width="7"/>
<ellipse cx="1244.3" cy="207.2" rx="11.4" ry="12.8" fill="#70AD47"/>
<text class="leg" x="1297.5" y="220.9">A6</text>
<line x1="1422.7" y1="207.2" x2="1521.5" y2="207.2" stroke="#997300" stroke-width="7"/>
<ellipse cx="1472" cy="207.2" rx="11.4" ry="12.8" fill="#997300"/>
<text class="leg" x="1523.3" y="220.9">B2</text>
<line x1="1650" y1="207.2" x2="1745.2" y2="207.2" stroke="#43682B" stroke-width="7"/>
<ellipse cx="1699.8" cy="207.2" rx="11.4" ry="12.8" fill="#43682B"/>
<text class="leg" x="1752.3" y="220.9">B3</text>
<line x1="1874.5" y1="207.2" x2="1973.4" y2="207.2" stroke="#698ED0" stroke-width="7"/>
<ellipse cx="1927.6" cy="207.2" rx="11.4" ry="12.8" fill="#698ED0"/>
<text class="leg" x="1979.5" y="220.9">B4</text>
<line x1="2102.3" y1="207.2" x2="2197.8" y2="207.2" stroke="#F1975A" stroke-width="7"/>
<ellipse cx="2151.4" cy="207.2" rx="11.4" ry="12.8" fill="#F1975A"/>
<text class="leg" x="2203.3" y="220.9">B6</text>
</g>
</svg>
</body>
</html>
